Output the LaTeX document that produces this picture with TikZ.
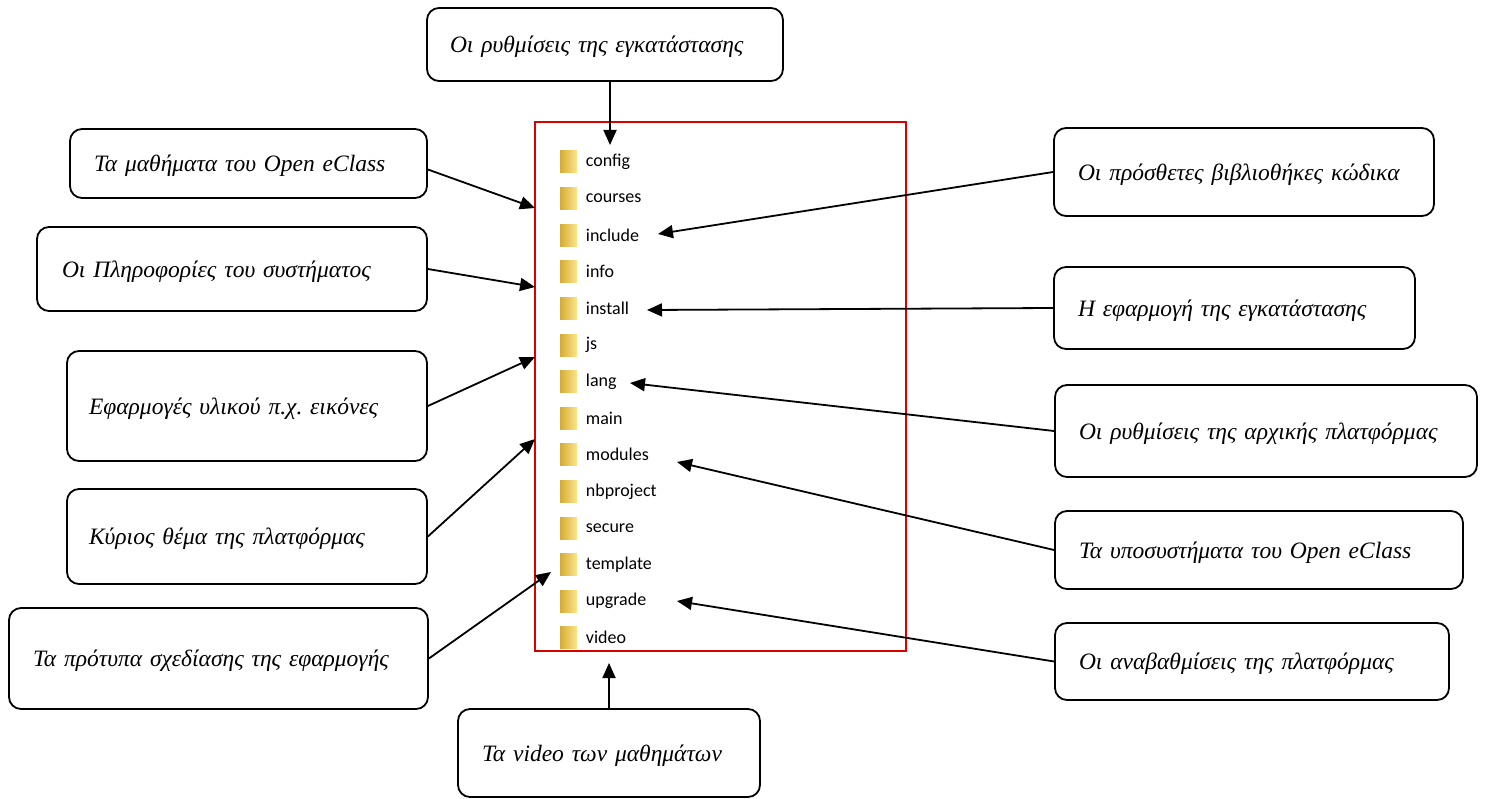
\documentclass[tikz,border=0pt]{standalone}
\usepackage{fontspec}
\setmainfont{Liberation Serif}
\newfontfamily\winfont{Carlito}
\usetikzlibrary{arrows.meta,positioning}
\definecolor{folderdark}{RGB}{214,172,52}
\definecolor{folderlight}{RGB}{250,230,140}
\tikzstyle{lbl}=[draw=black,line width=1.8pt,rounded corners=12pt,align=left,inner ysep=0pt,text depth=0pt,font=\fontsize{23.5}{27}\selectfont\itshape]
\tikzstyle{listbox}=[draw=red!85!black,line width=1.2pt,inner sep=0pt]
\tikzstyle{folder}=[left color=folderdark,right color=folderlight,minimum width=17pt,minimum height=22pt,inner sep=0pt]
\tikzstyle{fname}=[inner sep=0pt,font=\winfont\fontsize{18}{21}\selectfont]
\tikzstyle{arr}=[line width=1.8pt,-{Triangle[length=15pt,width=13pt]}]
\frenchspacing

\begin{document}
\begin{tikzpicture}[x=1pt,y=-1pt]
\useasboundingbox (0,0) rectangle (1487,799);
\node[listbox,minimum width=371pt,minimum height=529pt] (list) at (720.5,386.5) {};
\foreach \name [count=\i from 0] in {config,courses,include,info,install,js,lang,main,modules,nbproject,secure,template,upgrade,video}{
\node[folder] (f\i) at (568.5,{162+36.6*\i}) {};
\node[fname,right=8.5pt of f\i] (n\i) {\name};
}
\node[lbl,minimum height=73pt,text width=310pt,inner xsep=23pt] (top) at (605,44.5) {Οι ρυθμίσεις της εγκατάστασης};
\node[lbl,minimum height=69pt,text width=309pt,inner xsep=24pt] (lb1) at (248.5,163.5) {Τα μαθήματα του Open eClass};
\node[lbl,minimum height=84pt,text width=340pt,inner xsep=25pt] (lb2) at (232,269) {Οι Πληροφορίες του συστήματος};
\node[lbl,minimum height=110pt,text width=316pt,inner xsep=22pt] (lb3) at (247,406) {Εφαρμογές υλικού π.χ. εικόνες};
\node[lbl,minimum height=95pt,text width=316pt,inner xsep=22pt] (lb4) at (247,536.5) {Κύριος θέμα της πλατφόρμας};
\node[lbl,minimum height=101pt,text width=371pt,inner xsep=24pt] (lb5) at (218.5,658.5) {Τα πρότυπα σχεδίασης της εφαρμογής};
\node[lbl,minimum height=88pt,text width=254pt,inner xsep=24pt] (bot) at (609,753) {Τα video των μαθημάτων};
\node[lbl,minimum height=88pt,text width=332pt,inner xsep=24pt] (rb1) at (1244,172) {Οι πρόσθετες βιβλιοθήκες κώδικα};
\node[lbl,minimum height=82pt,text width=313pt,inner xsep=24pt] (rb2) at (1234.5,308) {Η εφαρμογή της εγκατάστασης};
\node[lbl,minimum height=92pt,text width=374pt,inner xsep=24pt] (rb3) at (1266,431) {Οι ρυθμίσεις της αρχικής πλατφόρμας};
\node[lbl,minimum height=78pt,text width=360pt,inner xsep=24pt] (rb4) at (1259,550) {Τα υποσυστήματα του Open eClass};
\node[lbl,minimum height=77pt,text width=346pt,inner xsep=24pt] (rb5) at (1252,661.5) {Οι αναβαθμίσεις της πλατφόρμας};
% arrow tips
\coordinate (t-top) at (610,145);
\coordinate (t-lb1) at (535,208);
\coordinate (t-lb2) at (535,287);
\coordinate (t-lb3) at (535,357);
\coordinate (t-lb4) at (535,439);
\coordinate (t-lb5) at (551,572);
\coordinate (t-bot) at (609,663);
\coordinate (t-rb1) at (658,234);
\coordinate (t-rb2) at (647,310);
\coordinate (t-rb3) at (630,383);
\coordinate (t-rb4) at (677,462);
\coordinate (t-rb5) at (677,601);
\draw[arr] (top.south -| t-top) -- (t-top);
\draw[arr] ([yshift=-6pt]lb1.east) -- (t-lb1);
\draw[arr] (lb2.east) -- (t-lb2);
\draw[arr] (lb3.east) -- (t-lb3);
\draw[arr] (lb4.east) -- (t-lb4);
\draw[arr] (lb5.east) -- (t-lb5);
\draw[arr] (bot.north -| t-bot) -- (t-bot);
\draw[arr] (rb1.west) -- (t-rb1);
\draw[arr] (rb2.west) -- (t-rb2);
\draw[arr] (rb3.west) -- (t-rb3);
\draw[arr] (rb4.west) -- (t-rb4);
\draw[arr] (rb5.west) -- (t-rb5);
\end{tikzpicture}
\end{document}
